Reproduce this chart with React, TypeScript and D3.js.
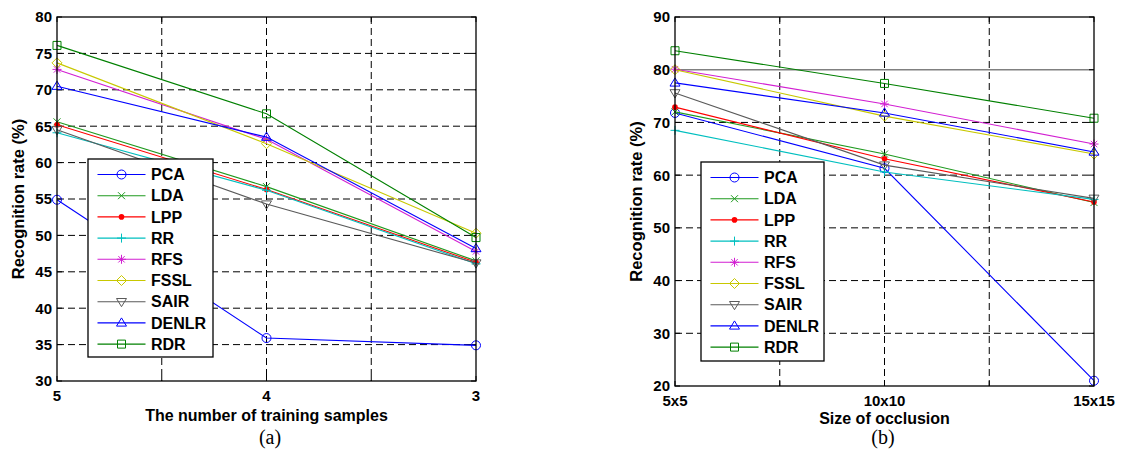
import React from "react";
import * as d3 from "d3";

const W = 1124;
const H = 467;
const FONT = "'Liberation Sans', Arial, Helvetica, sans-serif";

// methods, legend order
const methods = ["PCA", "LDA", "LPP", "RR", "RFS", "FSSL", "SAIR", "DENLR", "RDR"];
const colors = ["#0000ff", "#1f9a1f", "#ff0000", "#00bfbf", "#d21fd2", "#c8c800", "#5a5a5a", "#0000ff", "#008000"];
const markers = ["circle", "x", "dot", "plus", "star", "diamond", "tridown", "triup", "square"];

// (a) number of training samples
const samplesX = [5, 4, 3];
const samplesTicks = [5, 4.5, 4, 3.5, 3];
const samplesTickLabels = ["5", "", "4", "", "3"];
const samplesYTicks = [30, 35, 40, 45, 50, 55, 60, 65, 70, 75, 80];
const samplesRates = [
  [54.9, 35.9, 34.9], // PCA
  [65.6, 56.7, 46.5], // LDA
  [65.2, 56.3, 46.3], // LPP
  [64.1, 56.2, 46.1], // RR
  [72.8, 63.2, 47.8], // RFS
  [73.7, 62.6, 50.3], // FSSL
  [64.5, 54.3, 46.2], // SAIR
  [70.5, 63.5, 48.2], // DENLR
  [76.1, 66.7, 49.7], // RDR
];

// (b) size of occlusion
const occlusionX = [5, 10, 15];
const occlusionTicks = [5, 7.5, 10, 12.5, 15];
const occlusionTickLabels = ["5x5", "", "10x10", "", "15x15"];
const occlusionYTicks = [20, 30, 40, 50, 60, 70, 80, 90];
const occlusionRates = [
  [71.8, 61.3, 21.0], // PCA
  [72.0, 64.0, 54.8], // LDA
  [72.9, 63.1, 54.9], // LPP
  [68.5, 60.6, 55.4], // RR
  [80.1, 73.5, 65.9], // RFS
  [80.0, 71.2, 64.0], // FSSL
  [75.6, 61.9, 55.6], // SAIR
  [77.5, 71.8, 64.4], // DENLR
  [83.6, 77.4, 70.8], // RDR
];

const markerPath = (type: string) => {
  switch (type) {
    case "x":
      return "M-3.5,-3.5L3.5,3.5M-3.5,3.5L3.5,-3.5";
    case "plus":
      return "M-4.5,0H4.5M0,-4.5V4.5";
    case "star":
      return "M-4.5,0H4.5M0,-4.5V4.5M-3.2,-3.2L3.2,3.2M-3.2,3.2L3.2,-3.2";
    case "diamond":
      return "M0,-5L5,0L0,5L-5,0Z";
    case "tridown":
      return "M-5,-3.2L5,-3.2L0,5Z";
    case "triup":
      return "M-5,3.2L5,3.2L0,-5Z";
    case "square":
      return "M-4,-4H4V4H-4Z";
    default:
      return "";
  }
};

const Marker = ({ type, color, x, y }: { type: string; color: string; x: number; y: number }) => {
  if (type === "circle")
    return <circle cx={x} cy={y} r={4.5} fill="none" stroke={color} strokeWidth={1} />;
  if (type === "dot") return <circle cx={x} cy={y} r={2.8} fill={color} stroke="none" />;
  return (
    <path
      d={markerPath(type)}
      transform={`translate(${x},${y})`}
      fill="none"
      stroke={color}
      strokeWidth={1}
    />
  );
};

type PanelProps = {
  box: { left: number; right: number; top: number; bottom: number };
  xValues: number[];
  xTicks: number[];
  xTickLabels: string[];
  xDomain: [number, number];
  yDomain: [number, number];
  yTicks: number[];
  rates: number[][];
  legend: { x: number; y: number; w: number; h: number };
  xLabel: string;
  xLabelY: number;
  caption: string;
  captionX: number;
  solidGridAt?: number;
};

const Panel = (p: PanelProps) => {
  const { box } = p;
  const x = d3.scaleLinear().domain(p.xDomain).range([box.left, box.right]);
  const y = d3.scaleLinear().domain(p.yDomain).range([box.bottom, box.top]);
  const line = d3
    .line<number>()
    .x((_, i) => x(p.xValues[i]))
    .y((d) => y(d));
  const tick = 5;
  const midY = (box.top + box.bottom) / 2;

  return (
    <g>
      {/* grid */}
      {p.yTicks
        .filter((t) => t !== p.yDomain[0] && t !== p.yDomain[1])
        .map((t) =>
          t === p.solidGridAt ? (
            <line key={"gy" + t} x1={box.left} x2={box.right} y1={y(t)} y2={y(t)} stroke="#808080" strokeWidth={1.5} />
          ) : (
            <line key={"gy" + t} x1={box.left} x2={box.right} y1={y(t)} y2={y(t)} stroke="#000" strokeWidth={1} strokeDasharray="7,4" />
          )
        )}
      {p.xTicks
        .filter((t) => t !== p.xDomain[0] && t !== p.xDomain[1])
        .map((t) => (
          <line key={"gx" + t} x1={x(t)} x2={x(t)} y1={box.top} y2={box.bottom} stroke="#000" strokeWidth={1} strokeDasharray="7,4" />
        ))}

      {/* ticks */}
      {p.yTicks.map((t) => (
        <g key={"ty" + t}>
          <line x1={box.left} x2={box.left + tick} y1={y(t)} y2={y(t)} stroke="#000" />
          <line x1={box.right} x2={box.right - tick} y1={y(t)} y2={y(t)} stroke="#000" />
          <text
            x={box.left - 5}
            y={y(t)}
            dy="0.36em"
            textAnchor="end"
            fontFamily={FONT}
            fontWeight="bold"
            fontSize={15}
          >
            {t}
          </text>
        </g>
      ))}
      {p.xTicks.map((t, i) => (
        <g key={"tx" + t}>
          <line x1={x(t)} x2={x(t)} y1={box.bottom} y2={box.bottom - tick} stroke="#000" />
          <line x1={x(t)} x2={x(t)} y1={box.top} y2={box.top + tick} stroke="#000" />
          <text
            x={x(t)}
            y={box.bottom + 19.5}
            textAnchor="middle"
            fontFamily={FONT}
            fontWeight="bold"
            fontSize={15}
          >
            {p.xTickLabels[i]}
          </text>
        </g>
      ))}

      {/* series */}
      {p.rates.map((r, k) => (
        <g key={"s" + k}>
          <path d={line(r) || ""} fill="none" stroke={colors[k]} strokeWidth={1.1} />
          {r.map((v, i) => (
            <Marker key={i} type={markers[k]} color={colors[k]} x={x(p.xValues[i])} y={y(v)} />
          ))}
        </g>
      ))}

      {/* axes box */}
      <rect
        x={box.left}
        y={box.top}
        width={box.right - box.left}
        height={box.bottom - box.top}
        fill="none"
        stroke="#000"
        strokeWidth={1.3}
      />

      {/* legend */}
      <g>
        <rect x={p.legend.x} y={p.legend.y} width={p.legend.w} height={p.legend.h} fill="#fff" stroke="#000" strokeWidth={1.3} />
        {methods.map((m, k) => {
          const ry = p.legend.y + 15.5 + k * 21.2;
          const lx = p.legend.x + 9.5;
          return (
            <g key={"l" + m}>
              <line x1={lx} x2={lx + 48} y1={ry} y2={ry} stroke={colors[k]} strokeWidth={1.1} />
              <Marker type={markers[k]} color={colors[k]} x={lx + 24} y={ry} />
              <text x={lx + 53.5} y={ry} dy="0.36em" fontFamily={FONT} fontWeight="bold" fontSize={16}>
                {m}
              </text>
            </g>
          );
        })}
      </g>

      {/* labels */}
      <text
        transform={`translate(${box.left - 33},${midY}) rotate(-90)`}
        textAnchor="middle"
        fontFamily={FONT}
        fontWeight="bold"
        fontSize={16.5}
      >
        Recognition rate (%)
      </text>
      <text
        x={(box.left + box.right) / 2}
        y={p.xLabelY}
        textAnchor="middle"
        fontFamily={FONT}
        fontWeight="bold"
        fontSize={16}
      >
        {p.xLabel}
      </text>
      <text
        x={p.captionX}
        y={444}
        textAnchor="middle"
        fontFamily="'Liberation Serif', 'Times New Roman', serif"
        fontSize={20}
      >
        {p.caption}
      </text>
    </g>
  );
};

export default function App() {
  return (
    <svg
      width={W}
      height={H}
      viewBox={`0 0 ${W} ${H}`}
      style={{ position: "absolute", left: 0, top: 0, background: "#fff" }}
    >
      <rect width={W} height={H} fill="#fff" />
      <Panel
        box={{ left: 57, right: 476, top: 17, bottom: 381 }}
        xValues={samplesX}
        xTicks={samplesTicks}
        xTickLabels={samplesTickLabels}
        xDomain={[5, 3]}
        yDomain={[30, 80]}
        yTicks={samplesYTicks}
        rates={samplesRates}
        legend={{ x: 88, y: 159, w: 125, h: 198 }}
        xLabel="The number of training samples"
        xLabelY={421}
        caption="(a)"
        captionX={270}
      />
      <Panel
        box={{ left: 675, right: 1094, top: 17, bottom: 386 }}
        xValues={occlusionX}
        xTicks={occlusionTicks}
        xTickLabels={occlusionTickLabels}
        xDomain={[5, 15]}
        yDomain={[20, 90]}
        yTicks={occlusionYTicks}
        rates={occlusionRates}
        legend={{ x: 701, y: 162, w: 123, h: 199 }}
        xLabel="Size of occlusion"
        xLabelY={424}
        caption="(b)"
        captionX={883}
        solidGridAt={80}
      />
    </svg>
  );
}
